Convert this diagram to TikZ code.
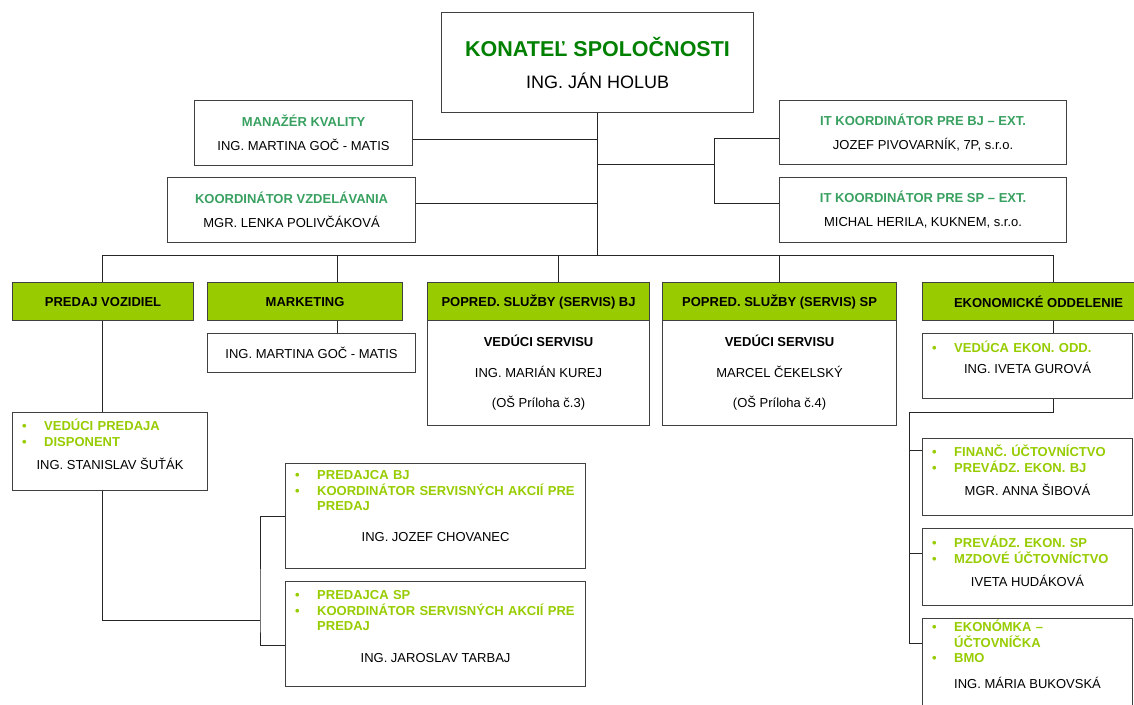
\documentclass[tikz,border=0pt]{standalone}
\usepackage{fontspec}
\setmainfont{Liberation Sans}
\usetikzlibrary{positioning}
\definecolor{headfill}{RGB}{153,204,0}
\definecolor{titlegreen}{RGB}{0,128,0}
\definecolor{rolegreen}{RGB}{56,160,96}
\definecolor{itemgreen}{RGB}{150,204,0}
\newcommand*{\fsz}{\fontsize{13}{15.5}\selectfont}
\newcommand*{\itm}[1]{\makebox[22pt][l]{\textbullet}#1}
\newcommand*{\rtitle}[1]{\textcolor{rolegreen}{\textbf{#1}}}
\tikzset{
    box/.style = {draw=black!75,line width=1.1pt,anchor=north west,inner sep=0,align=center,font=\fsz},
    dims/.style 2 args = {minimum width=#1,minimum height=#2},
    head/.style = {box,fill=headfill,font=\fsz\bfseries},
    twoline/.style = {font=\fontsize{13}{24}\selectfont},
    threeline/.style = {font=\fontsize{13}{30.5}\selectfont},
    items/.style = {anchor=base west,inner sep=0,text width=280pt,align=left,font=\fsz\bfseries,text=itemgreen},
    who/.style = {anchor=base,inner sep=0,font=\fsz},
    wire/.style = {line width=1pt,black!85}
}

\begin{document}
\begin{tikzpicture}[x=1pt,y=-1pt]
        \newcommand*\heady{282}
        \newcommand*\bodyy{320}
        \useasboundingbox (0,0) rectangle (1134,704);
        \clip (0,0) rectangle (1134,704);
        % Management
        \node[box,dims={312}{100},font=\fontsize{18}{32}\selectfont] (boss) at (441,12)
            {{\fontsize{21.5}{26}\selectfont\bfseries\textcolor{titlegreen}{KONATEĽ SPOLOČNOSTI}}\\ING. JÁN HOLUB};
        \node[box,twoline,dims={218}{65}] (mk) at (194,100)
            {\rtitle{MANAŽÉR KVALITY}\\ING. MARTINA GOČ - MATIS};
        \node[box,twoline,dims={248}{65}] (kv) at (167,177)
            {\rtitle{KOORDINÁTOR VZDELÁVANIA}\\MGR. LENKA POLIVČÁKOVÁ};
        \node[box,twoline,dims={287}{64}] (it1) at (779,100)
            {\rtitle{IT KOORDINÁTOR PRE BJ – EXT.}\\JOZEF PIVOVARNÍK, 7P, s.r.o.};
        \node[box,twoline,dims={287}{65}] (it2) at (779,177)
            {\rtitle{IT KOORDINÁTOR PRE SP – EXT.}\\MICHAL HERILA, KUKNEM, s.r.o.};
        % Departments
        \node[head,dims={181}{38}] (pv) at (12,\heady) {PREDAJ VOZIDIEL};
        \node[head,dims={195}{38}] (mkt) at (207,\heady) {MARKETING};
        \node[head,dims={222}{38}] (hbj) at (427,\heady) {POPRED. SLUŽBY (SERVIS) BJ};
        \node[head,dims={234}{38}] (hsp) at (662,\heady) {POPRED. SLUŽBY (SERVIS) SP};
        \node[head,dims={232}{38}] (eo) at (922,\heady) {EKONOMICKÉ ODDELENIE};
        \node[box,dims={208}{39}] (mm) at (207,333) {ING. MARTINA GOČ - MATIS};
        \node[box,threeline,dims={222}{105}] (sbj) at (427,\bodyy)
            {\textbf{VEDÚCI SERVISU}\\ING. MARIÁN KUREJ\\(OŠ Príloha č.3)};
        \node[box,threeline,dims={234}{105}] (ssp) at (662,\bodyy)
            {\textbf{VEDÚCI SERVISU}\\MARCEL ČEKELSKÝ\\(OŠ Príloha č.4)};
        % Sales
        \node[box,dims={195}{78}] (vp) at (12,412) {};
        \node[items] (vp-r) at ([xshift=10pt,yshift=-18.7pt]vp.north west)
            {\itm{VEDÚCI PREDAJA}\\\itm{DISPONENT}};
        \node[who] (vp-n) at ([yshift=-57.7pt]vp.north) {ING. STANISLAV ŠUŤÁK};
        \node[box,dims={300}{105}] (pbj) at (285,463) {};
        \node[items] (pbj-r) at ([xshift=10pt,yshift=-16.5pt]pbj.north west)
            {\itm{PREDAJCA BJ}\\\itm{KOORDINÁTOR SERVISNÝCH AKCIÍ PRE}\\\hspace*{22pt}PREDAJ};
        \node[who] (pbj-n) at ([yshift=-78.7pt]pbj.north) {ING. JOZEF CHOVANEC};
        \node[box,dims={300}{105}] (psp) at (285,581) {};
        \node[items] (psp-r) at ([xshift=10pt,yshift=-18.7pt]psp.north west)
            {\itm{PREDAJCA SP}\\\itm{KOORDINÁTOR SERVISNÝCH AKCIÍ PRE}\\\hspace*{22pt}PREDAJ};
        \node[who] (psp-n) at ([yshift=-81.7pt]psp.north) {ING. JAROSLAV TARBAJ};
        % Economy
        \node[box,dims={210}{65}] (ve) at (922,333) {};
        \node[items] (ve-r) at ([xshift=10pt,yshift=-19.7pt]ve.north west) {\itm{VEDÚCA EKON. ODD.}};
        \node[who] (ve-n) at ([yshift=-40.7pt]ve.north) {ING. IVETA GUROVÁ};
        \node[box,dims={210}{77}] (e1) at (922,438) {};
        \node[items] (e1-r) at ([xshift=10pt,yshift=-18.7pt]e1.north west)
            {\itm{FINANČ. ÚČTOVNÍCTVO}\\\itm{PREVÁDZ. EKON. BJ}};
        \node[who] (e1-n) at ([yshift=-57.7pt]e1.north) {MGR. ANNA ŠIBOVÁ};
        \node[box,dims={210}{77}] (e2) at (922,528) {};
        \node[items] (e2-r) at ([xshift=10pt,yshift=-19.7pt]e2.north west)
            {\itm{PREVÁDZ. EKON. SP}\\\itm{MZDOVÉ ÚČTOVNÍCTVO}};
        \node[who] (e2-n) at ([yshift=-58.7pt]e2.north) {IVETA HUDÁKOVÁ};
        \node[box,dims={210}{100}] (e3) at (922,618) {};
        \node[items] (e3-r) at ([xshift=10pt,yshift=-13.7pt]e3.north west)
            {\itm{EKONÓMKA –}\\\hspace*{22pt}ÚČTOVNÍČKA\\\itm{BMO}};
        \node[who] (e3-n) at ([yshift=-70.7pt]e3.north) {ING. MÁRIA BUKOVSKÁ};
        % Trunk and bus
        \coordinate (busL) at (102,255);
        \coordinate (busR) at (1053,255);
        \draw[wire] (boss.south) -- (boss.south |- busL);
        \draw[wire] (busL) -- (busR);
        % Staff links
        \coordinate (mk-in) at ([yshift=-6pt]mk.east);
        \coordinate (kv-in) at ([yshift=6.5pt]kv.east);
        \coordinate (it1-in) at ([yshift=-6pt]it1.west);
        \coordinate (it2-in) at ([yshift=6.5pt]it2.west);
        \coordinate (itj) at (714,164);
        \foreach \c in {mk-in,kv-in}
            \draw[wire] (\c) -- (boss.south |- \c);
        \draw[wire] (boss.south |- itj) -- (itj);
        \draw[wire] (it1-in) -| (itj) |- (it2-in);
        % Drops to departments
        \foreach \d/\dx in {pv/90,mkt/130,hbj/131,hsp/117,eo/131}{
            \coordinate (\d-top) at ([xshift=\dx*1pt]\d.north west);
            \draw[wire] (\d-top |- busL) -- (\d-top);
        }
        \draw[wire] (mkt-top |- mkt.south) -- (mkt-top |- mm.north);
        % Sales links
        \draw[wire] (pv-top |- pv.south) -- (pv-top |- vp.north);
        \coordinate (sj) at (260,620);
        \coordinate (psp-in) at ([yshift=-11.5pt]psp.west);
        \draw[wire] (pv-top |- vp.south) |- (sj);
        \draw[wire] (pbj.west) -| (sj) |- (psp-in);
        % Economy links
        \draw[wire] (eo-top |- eo.south) -- (eo-top |- ve.north);
        \coordinate (ej) at (909,412);
        \draw[wire] (eo-top |- ve.south) |- (ej);
        \foreach \e/\dy in {e1/12,e2/25,e3/25}
            \coordinate (\e-in) at ([yshift=-\dy*1pt]\e.north west);
        \draw[wire] (ej) |- (e3-in);
        \foreach \e in {e1,e2}
            \draw[wire] (ej |- \e-in) -- (\e-in);
    \end{tikzpicture}
\end{document}
